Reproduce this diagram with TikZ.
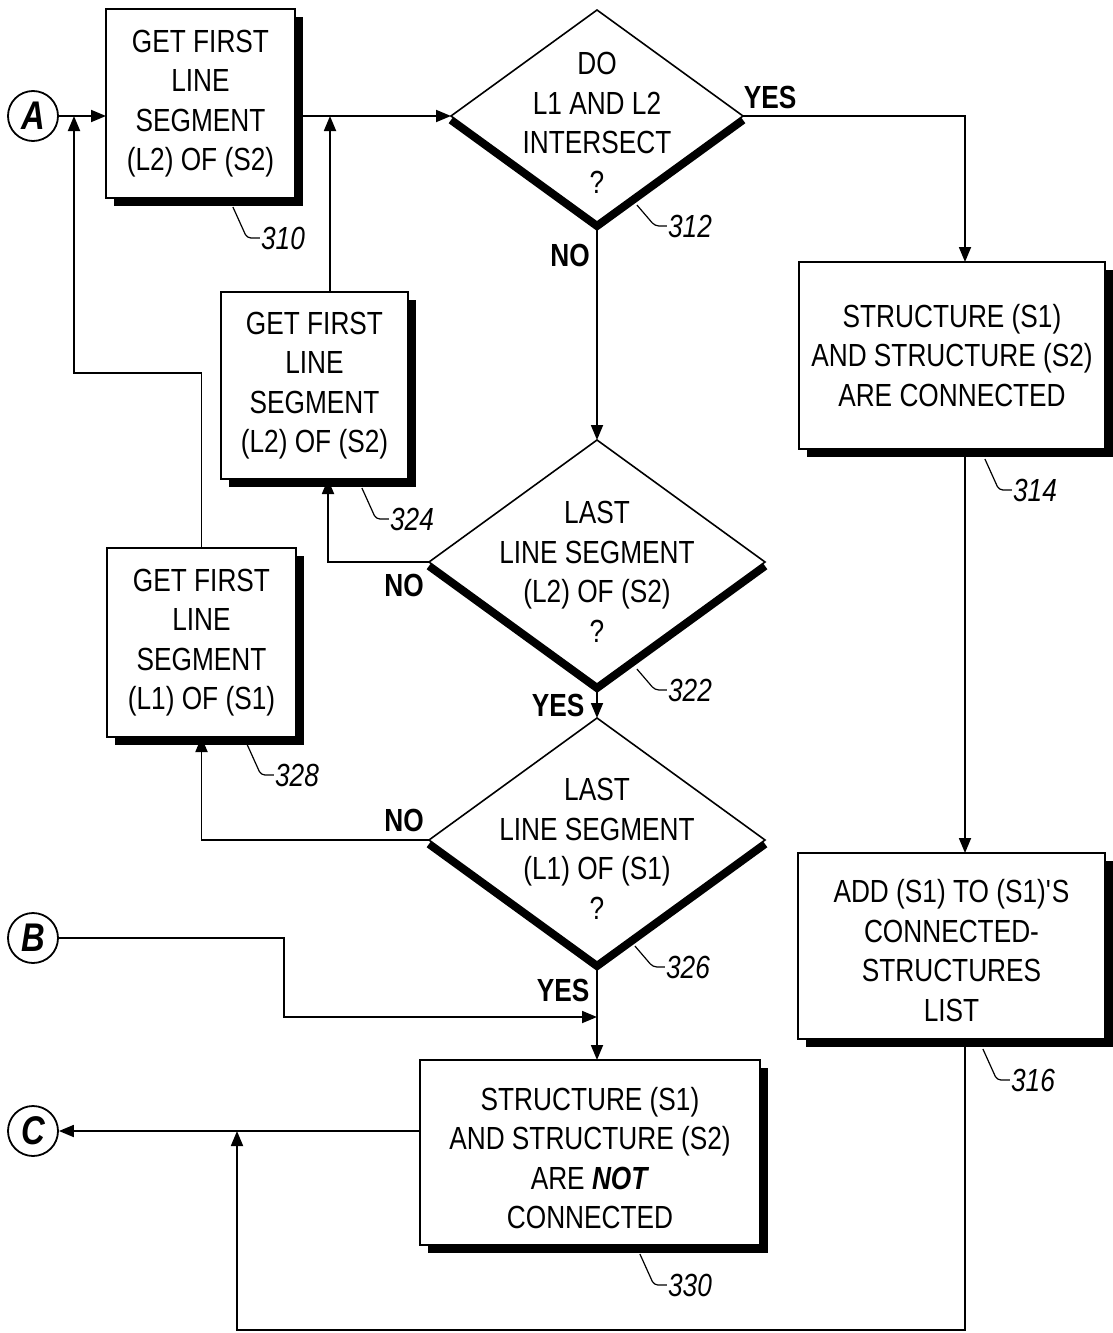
\documentclass[tikz,border=0pt]{standalone}
\usepackage{fontspec}
\setmainfont{Liberation Sans}[FakeStretch=0.82]
\usetikzlibrary{arrows.meta,shapes.geometric,shadows,backgrounds,calc}
\begin{document}
\begin{tikzpicture}[x=1pt,y=-1pt,
  box/.style={draw, line width=1.8pt, fill=white, inner sep=0pt, outer sep=0pt, align=center,
    font=\fontsize{32}{39.5}\selectfont,
    drop shadow={shadow xshift=8pt, shadow yshift=-8pt, fill=black, opacity=1}},
  dec/.style={shape=diamond, draw, line width=1.6pt, fill=white, inner sep=0pt, outer sep=0pt,
    minimum width=336pt, minimum height=244pt},
  dtext/.style={align=center, inner sep=0pt, font=\fontsize{32}{39.5}\selectfont},
  conn/.style={draw, line width=1.8pt, -{Triangle[length=15pt,width=12pt]}},
  yn/.style={font=\fontsize{32}{36}\selectfont\bfseries, inner sep=0pt},
  refnum/.style={font=\fontsize{32}{36}\selectfont\itshape, inner sep=1pt},
  leader/.style={draw, line width=1.2pt, rounded corners=4pt},
  term/.style={circle, draw, line width=1.8pt, minimum size=50pt, inner sep=0pt,
    font=\fontsize{40}{40}\selectfont\bfseries\itshape},
  dshadow/.style={line width=8pt, line join=miter}
]
\useasboundingbox (0,0) rectangle (1113,1333);

% terminals
\node[term] (A) at (33,116) {A};
\node[term] (B) at (33,938) {B};
\node[term] (C) at (33,1131) {C};

% boxes
\node[box, minimum width=189pt, minimum height=189pt] (b310) at (200.5,103.5) {GET FIRST\\LINE\\SEGMENT\\(L2) OF (S2)};
\node[box, minimum width=187pt, minimum height=187pt] (b324) at (314.5,385.5) {GET FIRST\\LINE\\SEGMENT\\(L2) OF (S2)};
\node[box, minimum width=189pt, minimum height=189pt] (b328) at (201.5,642.5) {GET FIRST\\LINE\\SEGMENT\\(L1) OF (S1)};
\node[box, minimum width=306pt, minimum height=187pt] (b314) at (952,355.5) {STRUCTURE (S1)\\AND STRUCTURE (S2)\\ARE CONNECTED};
\node[box, minimum width=307pt, minimum height=186pt] (b316) at (951.5,946) {\rule{0pt}{32pt}ADD (S1) TO (S1)\textquotesingle S\\CONNECTED-\\STRUCTURES\\LIST};
\node[box, minimum width=340pt, minimum height=185pt] (b330) at (590,1152.5) {\rule{0pt}{34pt}STRUCTURE (S1)\\AND STRUCTURE (S2)\\ARE \textbf{\textit{NOT}}\\CONNECTED};

% decisions
\node[dec, minimum width=292pt, minimum height=212pt] (d312) at (597,116) {};
\node[dtext] (t312) at (597,123) {DO\\L1 AND L2\\INTERSECT\\?};
\node[dec] (d322) at (597,562) {};
\node[dtext] (t322) at (597,572) {LAST\\LINE SEGMENT\\(L2) OF (S2)\\?};
\node[dec] (d326) at (597,840) {};
\node[dtext] (t326) at (597,849) {LAST\\LINE SEGMENT\\(L1) OF (S1)\\?};

\begin{scope}[on background layer]
\foreach \d in {d312,d322,d326}
  \draw[dshadow] ([yshift=-4pt]\d.west) -- ([yshift=-4pt]\d.south) -- ([yshift=-4pt]\d.east);
\end{scope}

% junction coordinates
\coordinate (j328) at (74,116);
\coordinate (j324) at (330,116);
\coordinate (jC) at (237,1131);
\coordinate (jB) at (597,1017);

% connectors
\draw[conn] (A) -- (A -| b310.west);
\draw[conn] (d312.west -| b310.east) -- (d312.west);
\draw[conn] (d312.east) -| ([xshift=13pt]b314.north);
\draw[conn] (d312.south) -- (d322.north);
\draw[conn] ([xshift=13pt]b314.south) -- ([xshift=13.5pt]b316.north);
\draw[conn] ([xshift=13.5pt]b316.south) -- ++(0,291) -| (jC);
\draw[conn] (b330.west |- C) -- (C);
\draw[conn] (d322.west) -| ([xshift=13.5pt]b324.south);
\draw[conn] ([xshift=15.5pt]b324.north) -- (j324);
\draw[conn] (b328.north) -- ++(0,-175) -| (j328);
\draw[conn] (d322.south) -- (d326.north);
\draw[conn] (d326.west) -| (b328.south);
\draw[conn] (d326.south) -- (d326.south |- b330.north);
\draw[conn] (B) -- ++(251,0) |- (jB);

% yes / no labels
\node[yn] (y312) at (770,97) {YES};
\node[yn] (n312) at (570,255) {NO};
\node[yn] (n322) at (404,585) {NO};
\node[yn] (y322) at (558,705) {YES};
\node[yn] (n326) at (404,820) {NO};
\node[yn] (y326) at (563,990) {YES};

% reference numerals
\node[refnum] (r310) at (283,238) {310};
\node[refnum] (r312) at (690,226) {312};
\node[refnum] (r314) at (1035,490) {314};
\node[refnum] (r316) at (1033,1080) {316};
\node[refnum] (r322) at (690,690) {322};
\node[refnum] (r324) at (412,519) {324};
\node[refnum] (r326) at (688,967) {326};
\node[refnum] (r328) at (297,775) {328};
\node[refnum] (r330) at (690,1285) {330};

\foreach \r in {r310,r314,r316,r324,r328,r330}
  \draw[leader] ([shift={(-27,-31)}]\r.west) -- ([xshift=-13pt]\r.west) -- (\r.west);
\foreach \r in {r312,r322,r326}
  \draw[leader] ([shift={(-30,-21)}]\r.west) -- ([xshift=-12pt]\r.west) -- (\r.west);
\end{tikzpicture}
\end{document}
